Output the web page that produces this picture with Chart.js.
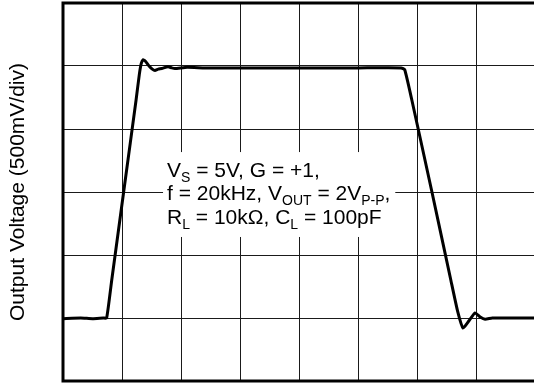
<!DOCTYPE html>
<html>
<head>
<meta charset="utf-8">
<script src="https://cdn.jsdelivr.net/npm/chart.js@4"></script>
<style>
  html, body { margin: 0; padding: 0; background: #fff; overflow: hidden; }
</style>
</head>
<body>
<canvas id="scope" width="540" height="383"></canvas>
<script>
'use strict';

// time in us (5us/div), output in volts (500mV/div)
const timeUs = [0, 1.5, 2.5, 3.4, 3.69, 4.12, 5.2, 6.18, 6.45, 6.62, 6.77, 6.95, 7.28, 7.55, 7.78, 8.05, 8.35, 8.88, 9.2, 9.47, 10.5, 12, 15, 20, 25, 28.6, 28.9, 29.5, 31.2, 32.8, 33.38, 33.83, 34.35, 34.85, 35.25, 35.7, 36.3, 40];
const volts = [-1.005, -1.0, -1.005, -1.0, -1.0, -0.70, 0.05, 0.73, 0.93, 1.02, 1.05, 1.04, 1.0, 0.975, 0.965, 0.975, 0.98, 0.995, 0.985, 0.98, 0.99, 0.985, 0.985, 0.985, 0.985, 0.985, 0.97, 0.73, 0.0, -0.70, -0.95, -1.08, -1.02, -0.96, -0.99, -1.01, -1.0, -1.0];

const yTitle = 'Output Voltage (500mV/div)';
// each line is a list of [text, isSubscript]
const noteLines = [
  [['V', false], ['S', true], [' = 5V, G = +1,', false]],
  [['f = 20kHz, V', false], ['OUT', true], [' = 2V', false], ['P-P', true], [',', false]],
  [['R', false], ['L', true], [' = 10k\u03A9, C', false], ['L', true], [' = 100pF', false]]
];

const FONT = '"Liberation Sans", Arial, sans-serif';

const notePlugin = {
  id: 'note',
  beforeDatasetsDraw(chart) {
    const ctx = chart.ctx;
    const xs = chart.scales.x;
    const ys = chart.scales.y;
    // white box behind the text hides the grid
    const left = xs.getPixelForValue(8.46);
    const right = xs.getPixelForValue(28.1);
    const top = ys.getPixelForValue(0.317);
    const bottom = ys.getPixelForValue(-0.357);
    ctx.save();
    ctx.fillStyle = '#fff';
    ctx.fillRect(left, top, right - left, bottom - top);
    ctx.fillStyle = '#000';
    ctx.textBaseline = 'alphabetic';
    let base = ys.getPixelForValue(0.12);
    noteLines.forEach(line => {
      let x = left + 4;
      line.forEach(([txt, sub]) => {
        ctx.font = (sub ? '14px ' : '21px ') + FONT;
        ctx.fillText(txt, x, sub ? base + 5 : base);
        x += ctx.measureText(txt).width;
      });
      base += 23.5;
    });
    ctx.restore();
  },
  afterDraw(chart) {
    const a = chart.chartArea;
    const ctx = chart.ctx;
    ctx.save();
    ctx.strokeStyle = '#000';
    ctx.lineWidth = 3;
    ctx.strokeRect(a.left, a.top, a.right - a.left, a.bottom - a.top);
    ctx.restore();
  }
};

const ctx = document.getElementById('scope').getContext('2d');
const chart = new Chart(ctx, {
  type: 'line',
  data: {
    datasets: [{
      data: timeUs.map((t, i) => ({ x: t, y: volts[i] })),
      borderColor: '#000',
      borderWidth: 3,
      pointRadius: 0,
      tension: 0.15,
      fill: false
    }]
  },
  options: {
    responsive: false,
    animation: false,
    layout: { padding: { left: 0, top: 3, right: 4, bottom: 2 } },
    plugins: {
      legend: { display: false },
      tooltip: { enabled: false }
    },
    scales: {
      x: {
        type: 'linear',
        min: 0,
        max: 40,
        ticks: { display: false, stepSize: 5 },
        grid: { color: '#1a1a1a', lineWidth: 1, drawTicks: false },
        border: { display: false },
        afterFit: s => { s.height = 0; }
      },
      y: {
        min: -1.5,
        max: 1.5,
        ticks: { display: false, stepSize: 0.5 },
        grid: { color: '#1a1a1a', lineWidth: 1, drawTicks: false },
        border: { display: false },
        title: {
          display: true,
          text: yTitle,
          color: '#000',
          font: { family: FONT, size: 21 },
          padding: { top: 6, bottom: 0 }
        },
        afterFit: s => { s.width = 63; }
      }
    }
  },
  plugins: [notePlugin]
});
</script>
</body>
</html>
